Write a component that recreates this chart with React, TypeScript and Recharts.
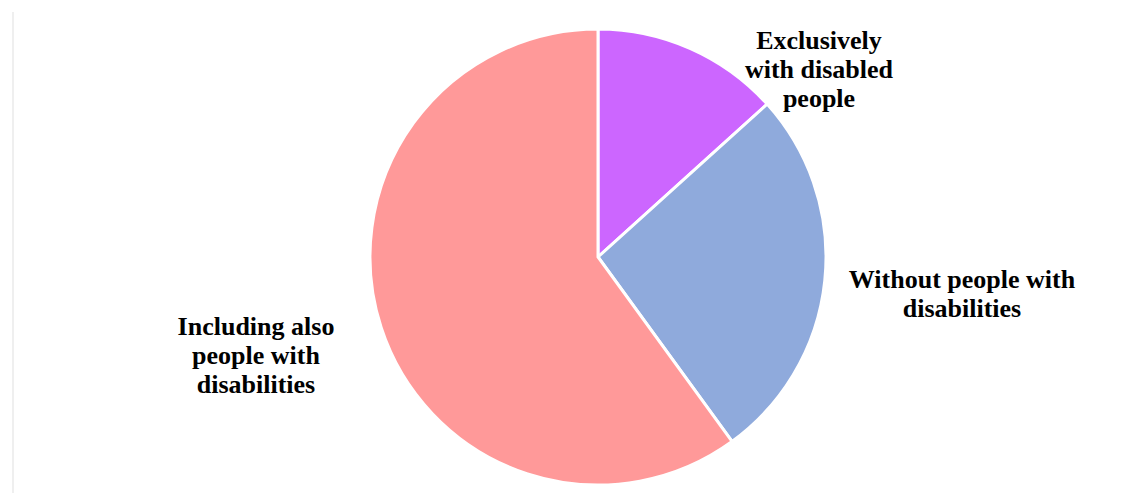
import { Cell, Pie, PieChart } from "recharts";

const categories = [
  "Exclusively with disabled people",
  "Without people with disabilities",
  "Including also people with disabilities",
];
const shares = [13.3, 26.7, 60];
const labelLines = [
  ["Exclusively", "with disabled", "people"],
  ["Without people with", "disabilities"],
  ["Including also", "people with", "disabilities"],
];

const colors = ["#CC66FF", "#8FAADC", "#FF9999"];
// where each label block sits relative to the pie centre (x = centre of text, y = first baseline)
const labelOffsets = [
  { dx: 221, dy: -208 },
  { dx: 364, dy: 31 },
  { dx: -342, dy: 78 },
];

const data = categories.map((name, i) => ({ name, value: shares[i] }));

const FONT = "'Liberation Serif', 'Times New Roman', serif";
const LINE_HEIGHT = 29;

function renderLabel(props: any) {
  const { cx, cy, index } = props;
  const off = labelOffsets[index];
  return (
    <text
      key={`lbl-${index}`}
      x={cx + off.dx}
      y={cy + off.dy}
      textAnchor="middle"
      fontFamily={FONT}
      fontWeight="bold"
      fontSize={26}
      fill="#000"
    >
      {labelLines[index].map((line, j) => (
        <tspan key={j} x={cx + off.dx} dy={j === 0 ? 0 : LINE_HEIGHT}>
          {line}
        </tspan>
      ))}
    </text>
  );
}

export default function App() {
  return (
    <div
      style={{
        position: "absolute",
        left: 0,
        top: 0,
        width: 1138,
        height: 493,
        background: "#fff",
      }}
    >
      <div
        style={{
          position: "absolute",
          left: 12,
          top: 12,
          width: 0,
          height: 481,
          borderLeft: "2px solid #efefef",
        }}
      />
      <PieChart
        width={1138}
        height={493}
        margin={{ top: 0, right: 0, bottom: 0, left: 0 }}
      >
        <Pie
          data={data}
          dataKey="value"
          nameKey="name"
          cx={598}
          cy={257}
          outerRadius={228}
          startAngle={90}
          endAngle={-270}
          stroke="#fff"
          strokeWidth={3}
          label={renderLabel}
          labelLine={false}
          isAnimationActive={false}
        >
          {data.map((d, i) => (
            <Cell key={d.name} fill={colors[i]} />
          ))}
        </Pie>
      </PieChart>
    </div>
  );
}
